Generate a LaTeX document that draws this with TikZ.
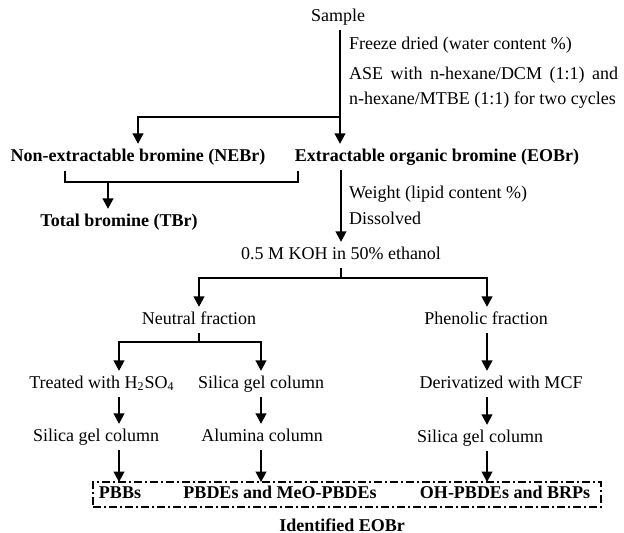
\documentclass[tikz,border=0pt]{standalone}
\usepackage{fontspec}
\setmainfont{Liberation Serif}
\usetikzlibrary{arrows.meta, positioning}

\begin{document}
\begin{tikzpicture}[x=0.5pt,y=-0.5pt,line width=0.75pt,
 >={Triangle[length=5.2pt,width=5.4pt]},
 every node/.style={font=\fontsize{9}{11}\selectfont,inner sep=0pt,outer sep=2.5pt,
   text height=6.3pt,text depth=1.9pt},
 res/.style={font=\fontsize{9}{11}\selectfont\bfseries},
 note/.style={anchor=west},
 idbox/.style={draw,dash pattern=on 4pt off 1.5pt on 1pt off 1.5pt,outer sep=0pt}]
 \useasboundingbox (0,0) rectangle (624,533);
 % steps down the middle
 \node (sample) at (338,17) {Sample};
 \node[res] (nebr) at (138,157) {Non-extractable bromine (NEBr)};
 \node[res] (eobr) at (437,157) {Extractable organic bromine (EOBr)};
 \node[res] (tbr) at (119,222) {Total bromine (TBr)};
 \node (koh) at (341,255) {0.5 M KOH in 50\% ethanol};
 \node (neut) at (199,320) {Neutral fraction};
 \node (phen) at (486,320) {Phenolic fraction};
 \node (acid) at (102,384) {Treated with H\textsubscript{2}SO\textsubscript{4}};
 \node (sil1) at (261,384) {Silica gel column};
 \node (deriv) at (501,384) {Derivatized with MCF};
 \node (sil2) at (96,437) {Silica gel column};
 \node (alum) at (262,437) {Alumina column};
 \node (sil3) at (480,438) {Silica gel column};
 % identified compounds
 \node[idbox,minimum width=254pt,minimum height=12.5pt] (box) at (347,494.5) {};
 \node[res] (pbb) at (120,494) {PBBs};
 \node[res] (pbde) at (280,494) {PBDEs and MeO-PBDEs};
 \node[res] (ohpbde) at (505,494) {OH-PBDEs and BRPs};
 \node[res] (ident) at (342,527) {Identified EOBr};
 % side notes
 \node[note] (freeze) at (344,45) {Freeze dried (water content \%)};
 \node[note,text width=134.5pt,align=justify,text height=,text depth=,
   font=\fontsize{9}{12.5}\selectfont] (ase) at (344,88)
   {ASE with n-hexane/DCM (1:1) and\linebreak n-hexane/MTBE (1:1) for two cycles};
 \node[note] (weight) at (344,194) {Weight (lipid content \%)};
 \node[note] (diss) at (344,220) {Dissolved};
 % branch points
 \coordinate (top) at (340,30);
 \coordinate (split) at (340,117);
 \coordinate (tsplit) at (108,182);
 \coordinate (bl) at (65,171);
 \coordinate (br) at (298,171);
 \coordinate (ksplit) at (341,278);
 \coordinate (nsplit) at (199,342);
 \coordinate (c1) at (119,0);
 \coordinate (c2) at (261,0);
 \coordinate (c3) at (487,0);
 \draw[->] (top) -- (top |- eobr.north);
 \draw[->] (split) -| (nebr.north);
 \draw (bl) |- (br |- tsplit) -- (br);
 \draw[->] (tsplit) -- (tsplit |- tbr.north);
 \draw[->] (eobr.south -| koh) -- (koh.north);
 \draw (koh.south) -- (ksplit);
 \draw[->] (ksplit) -| (neut.north);
 \draw[->] (ksplit) -| (c3 |- phen.north);
 \draw (neut.south) -- (nsplit);
 \draw[->] (nsplit) -| (c1 |- acid.north);
 \draw[->] (nsplit) -| (c2 |- sil1.north);
 \draw[->] (c3 |- phen.south) -- (c3 |- deriv.north);
 \draw[->] (c1 |- acid.south) -- (c1 |- sil2.north);
 \draw[->] (c2 |- sil1.south) -- (c2 |- alum.north);
 \draw[->] (c3 |- deriv.south) -- (c3 |- sil3.north);
 \draw[->] (c1 |- sil2.south) -- (c1 |- box.north);
 \draw[->] (c2 |- alum.south) -- (c2 |- box.north);
 \draw[->] (c3 |- sil3.south) -- (c3 |- box.north);
\end{tikzpicture}
\end{document}
